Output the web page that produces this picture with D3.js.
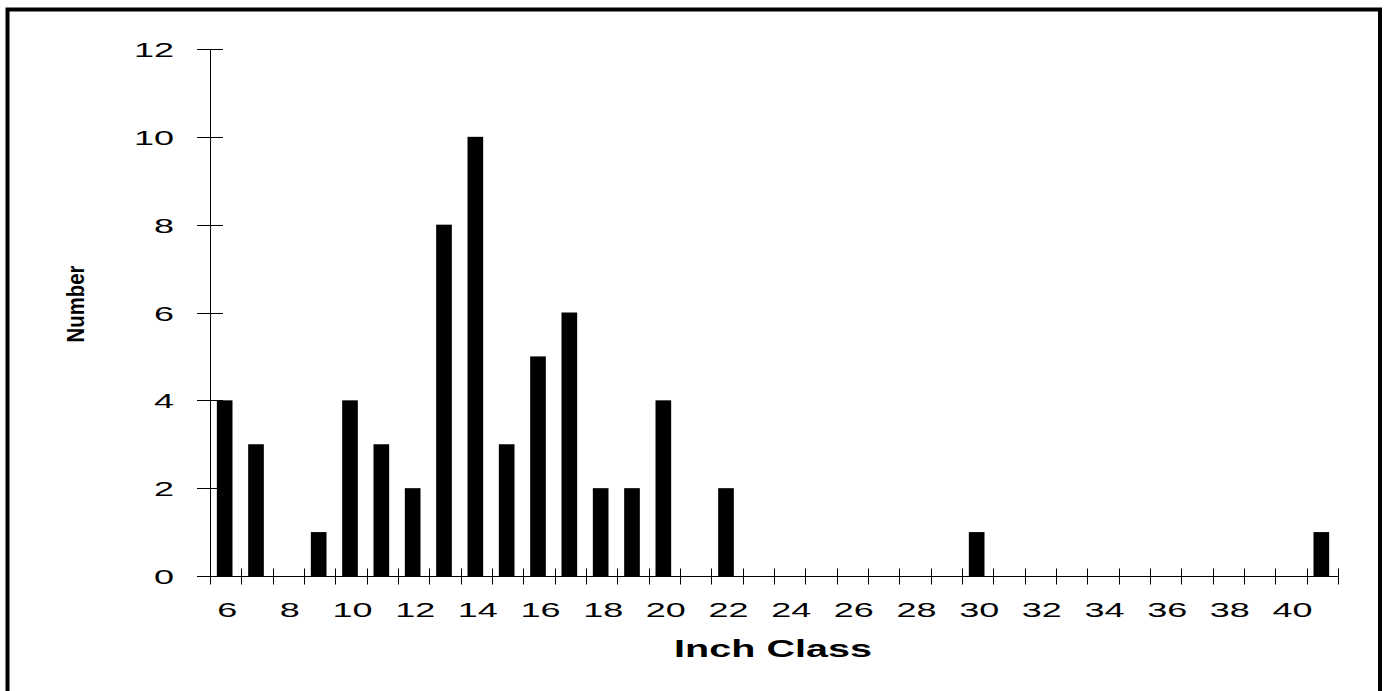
<!DOCTYPE html>
<html>
<head>
<meta charset="utf-8">
<script src="https://cdn.jsdelivr.net/npm/d3@7"></script>
<style>
  body { margin: 0; background: #fff; }
  svg { display: block; font-family: Arial, "Liberation Sans", sans-serif; }
</style>
</head>
<body>
<div id="chart"></div>
<script>
// Inch class categories and counts
const inchClasses = d3.range(6, 42);
const counts = [4, 3, 0, 1, 4, 3, 2, 8, 10, 3, 5, 6, 2, 2, 4, 0, 2,
  0, 0, 0, 0, 0, 0, 0, 1, 0, 0, 0, 0, 0, 0, 0, 0, 0, 0, 1];
const yTicks = [0, 2, 4, 6, 8, 10, 12];
const xLabelClasses = d3.range(6, 41, 2);

const width = 1385;
const height = 691;
const margin = {top: 49, left: 210, right: 47, bottom: 115};
const fontSize = '20px';
// the original text is drawn very wide, so stretch it horizontally
const stretch = 1.8;

const data = inchClasses.map((c, i) => ({cls: c, value: counts[i]}));

const svg = d3.select('#chart')
  .append('svg')
  .attr('width', width)
  .attr('height', height);

// Outer frame (no bottom edge visible)
svg.append('rect')
  .attr('x', 7.5)
  .attr('y', 9.5)
  .attr('width', 1372.5)
  .attr('height', 700)
  .attr('fill', 'none')
  .attr('stroke', '#000')
  .attr('stroke-width', 4);

const xScale = d3.scaleBand()
  .domain(inchClasses)
  .range([margin.left, width - margin.right])
  .paddingInner(0.5)
  .paddingOuter(0.25);

// Plain band without padding, used for tick marks
const xBand = d3.scaleBand()
  .domain(inchClasses)
  .range([margin.left, width - margin.right]);

const yScale = d3.scaleLinear()
  .domain([0, 12])
  .range([height - margin.bottom, margin.top]);

// Bars
svg.append('g')
  .selectAll('rect')
  .data(data.filter(d => d.value > 0))
  .enter()
  .append('rect')
  .attr('x', d => xScale(d.cls) - 1)
  .attr('y', d => yScale(d.value))
  .attr('width', xScale.bandwidth())
  .attr('height', d => yScale(0) - yScale(d.value))
  .attr('fill', '#000');

// y-axis
const yAxis = svg.append('g')
  .attr('transform', `translate(${margin.left}, 0)`);
yAxis.append('line')
  .attr('x1', 0.5).attr('x2', 0.5)
  .attr('y1', yScale(12)).attr('y2', yScale(0))
  .attr('stroke', '#000');
yAxis.selectAll('.ytick')
  .data(yTicks)
  .enter()
  .append('line')
  .attr('x1', -13).attr('x2', 13)
  .attr('y1', d => Math.round(yScale(d)) + 0.5)
  .attr('y2', d => Math.round(yScale(d)) + 0.5)
  .attr('stroke', '#000');
yAxis.selectAll('.ylabel')
  .data(yTicks)
  .enter()
  .append('text')
  .attr('transform', d => `translate(-36, ${yScale(d) + 8}) scale(${stretch}, 1)`)
  .attr('text-anchor', 'end')
  .style('font-size', fontSize)
  .text(d => d);

// x-axis
const xAxisY = Math.round(yScale(0)) + 0.5;
const xAxis = svg.append('g');
xAxis.append('line')
  .attr('x1', margin.left).attr('x2', width - margin.right)
  .attr('y1', xAxisY).attr('y2', xAxisY)
  .attr('stroke', '#000');
const boundaries = inchClasses.map(c => xBand(c)).concat([width - margin.right]);
xAxis.selectAll('.xtick')
  .data(boundaries)
  .enter()
  .append('line')
  .attr('x1', d => Math.round(d) + 0.5)
  .attr('x2', d => Math.round(d) + 0.5)
  .attr('y1', xAxisY - 8).attr('y2', xAxisY + 8)
  .attr('stroke', '#000');
xAxis.selectAll('.xlabel')
  .data(xLabelClasses)
  .enter()
  .append('text')
  .attr('transform', d => `translate(${xBand(d) + xBand.bandwidth() / 2 + 1.5}, 617) scale(${stretch}, 1)`)
  .attr('text-anchor', 'middle')
  .style('font-size', fontSize)
  .text(d => d);

// Axis titles
svg.append('text')
  .attr('transform', `translate(${(margin.left + width - margin.right) / 2 - 1}, 657) scale(1.72, 1)`)
  .attr('text-anchor', 'middle')
  .style('font-size', '23px')
  .style('font-weight', 'bold')
  .text('Inch Class');

// y title is squeezed into a short span in the original
svg.append('text')
  .attr('transform', 'translate(84, 304) rotate(-90)')
  .attr('text-anchor', 'middle')
  .attr('textLength', 77)
  .attr('lengthAdjust', 'spacingAndGlyphs')
  .style('font-size', '24px')
  .style('font-weight', 'bold')
  .text('Number');
</script>
</body>
</html>
